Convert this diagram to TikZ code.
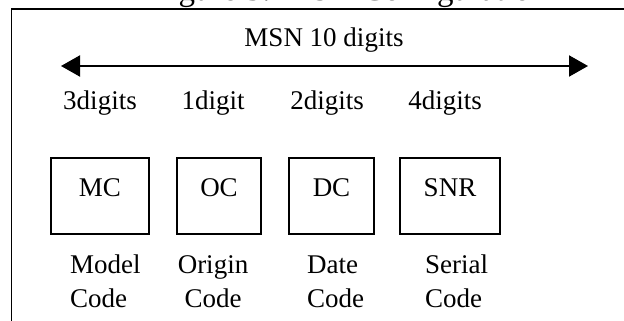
\documentclass[tikz,border=0pt]{standalone}
\usepackage{fontspec}
\setmainfont{Liberation Serif}
\usetikzlibrary{arrows.meta}

\begin{document}
\begin{tikzpicture}[x=0.5pt, y=-0.5pt,
        font=\fontsize{13.5}{17}\selectfont,
        codebox/.style={draw, line width=0.75pt, minimum height=38pt,
            text height=9.5pt, text depth=9.5pt, inner sep=0pt}]
        % Fix the page size
        \useasboundingbox (0,0) rectangle (624,320);
        \clip (0,0) rectangle (624,320);

        % Draw the frame
        \draw[line width=0.8pt] (11.5,9) rectangle (660,360);

        % Add the title
        \node[anchor=base, font=\fontsize{16.5}{20}\selectfont] (title) at (349,1) {Figure 3: MSN Configuration};

        % Draw the double arrow
        \coordinate (msnwest) at (61,66);
        \coordinate (msneast) at (588,66);
        \draw[{Triangle[length=9.5pt, width=10.5pt]}-{Triangle[length=9.5pt, width=10.5pt]}, line width=1pt] (msnwest) -- (msneast);
        \node[anchor=base] (msn) at (324,46.7) {MSN 10 digits};

        % Add the digit counts
        \node[anchor=base] (mcdigits) at (100,110) {3digits};
        \node[anchor=base] (ocdigits) at (213,110) {1digit};
        \node[anchor=base] (dcdigits) at (327,110) {2digits};
        \node[anchor=base] (snrdigits) at (445,110) {4digits};

        % Draw the code boxes
        \node[codebox, minimum width=49pt] (mc) at (100,196) {MC};
        \node[codebox, minimum width=42pt] (oc) at (219,196) {OC};
        \node[codebox, minimum width=42.5pt] (dc) at (331.5,196) {DC};
        \node[codebox, minimum width=50pt] (snr) at (450,196) {SNR};

        % Add the names
        \node[anchor=base west, align=left] (mcname) at (63,307) {Model\\Code};
        \node[anchor=base, align=center] (ocname) at (213,307) {Origin\\Code};
        \node[anchor=base west, align=left] (dcname) at (300,307) {Date\\Code};
        \node[anchor=base west, align=left] (snrname) at (418,307) {Serial\\Code};
    \end{tikzpicture}
\end{document}
